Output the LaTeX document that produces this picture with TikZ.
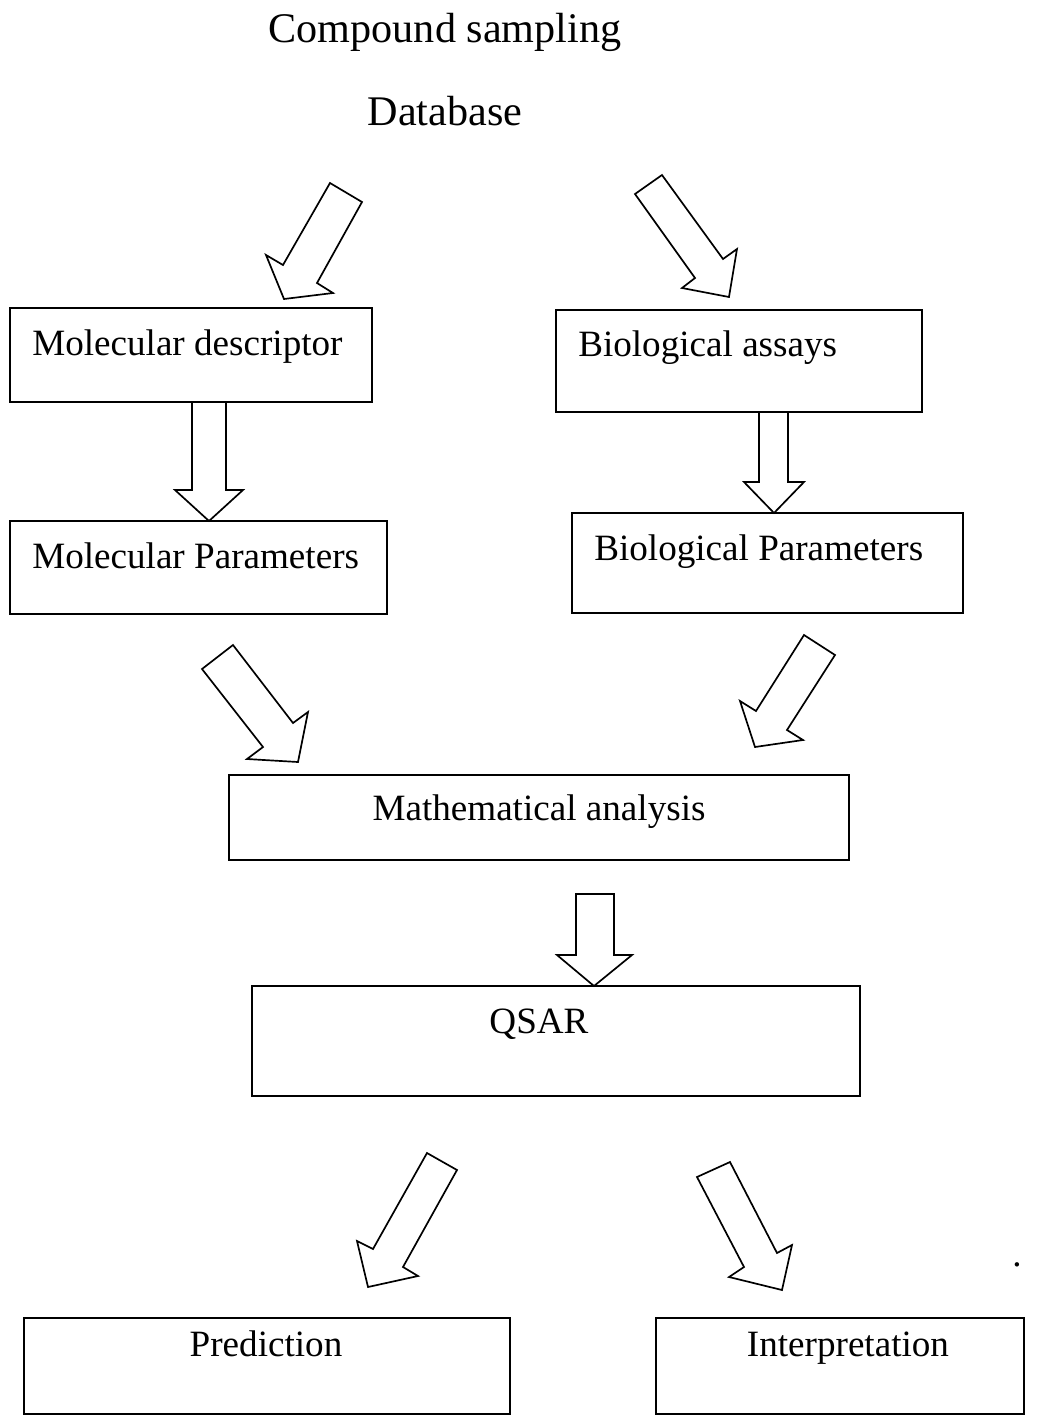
\documentclass[tikz,border=0pt]{standalone}
\usepackage{fontspec}
\setmainfont{Liberation Serif}
\usetikzlibrary{positioning,fit}

\tikzset{
  box/.style={draw, line width=1.4pt, inner sep=0pt},
  boxtext/.style={font=\fontsize{26.4}{30}\selectfont, inner sep=0pt},
  titletext/.style={font=\fontsize{30}{34}\selectfont, inner sep=0pt, anchor=base},
  blockarrow/.style={draw, line width=1.2pt, line join=miter}
}

\begin{document}
\begin{tikzpicture}[x=0.025cm, y=-0.025cm]
      \useasboundingbox (0,0) rectangle (1040,1416);
      % titles
      \node[titletext] (title) at (445,42) {Compound sampling};
      \node[titletext] (db) at (445,125) {Database};
      % boxes
      \node[box, fit={(10,308) (372,402)}] (md) {};
      \node[box, fit={(556,310) (922,412)}] (ba) {};
      \node[box, fit={(10,521) (387,614)}] (mp) {};
      \node[box, fit={(572,513) (963,613)}] (bp) {};
      \node[box, fit={(229,775) (849,860)}] (ma) {};
      \node[box, fit={(252,986) (860,1096)}] (qsar) {};
      \node[box, fit={(24,1318) (510,1414)}] (pred) {};
      \node[box, fit={(656,1318) (1024,1414)}] (interp) {};
      % box texts
      \node[boxtext, anchor=base west] (mdtext) at (32,355) {Molecular descriptor};
      \node[boxtext, anchor=base west] (batext) at (578,356) {Biological assays};
      \node[boxtext, anchor=base west] (mptext) at (32,568) {Molecular Parameters};
      \node[boxtext, anchor=base west] (bptext) at (594,560) {Biological Parameters};
      \node[boxtext, anchor=base] (matext) at (539,820) {Mathematical analysis};
      \node[boxtext, anchor=base] (qsartext) at (539,1033) {QSAR};
      \node[boxtext, anchor=base] (predtext) at (266,1356) {Prediction};
      \node[boxtext, anchor=base] (interptext) at (848,1356) {Interpretation};
      \node[boxtext, anchor=base] (dot) at (1017,1266) {.};
      % block arrows
      \draw[blockarrow] (330,183) -- (362,202) -- (317,283) -- (333,293) -- (284,299) -- (266,255) -- (283,265) -- cycle;
      \draw[blockarrow] (662,175) -- (723,259) -- (737,249) -- (729,297) -- (682,288) -- (695,278) -- (635,194) -- cycle;
      \draw[blockarrow] (192,402) -- (192,490) -- (175,490) -- (209,521) -- (243,490) -- (226,490) -- (226,402);
      \draw[blockarrow] (759,412) -- (759,482) -- (744,482) -- (774,513) -- (804,482) -- (788,482) -- (788,412);
      \draw[blockarrow] (233,645) -- (202,669) -- (263,747) -- (247,759) -- (298,762) -- (308,712) -- (293,723) -- cycle;
      \draw[blockarrow] (804,635) -- (835,655) -- (787,730) -- (803,740) -- (755,747) -- (740,701) -- (756,711) -- cycle;
      \draw[blockarrow] (576,894) -- (614,894) -- (614,955) -- (632,955) -- (594,986) -- (557,955) -- (576,955) -- cycle;
      \draw[blockarrow] (427,1153) -- (457,1170) -- (403,1267) -- (418,1276) -- (368,1287) -- (357,1241) -- (373,1249) -- cycle;
      \draw[blockarrow] (730,1162) -- (697,1177) -- (744,1267) -- (729,1277) -- (782,1290) -- (792,1245) -- (777,1253) -- cycle;
\end{tikzpicture}
\end{document}
